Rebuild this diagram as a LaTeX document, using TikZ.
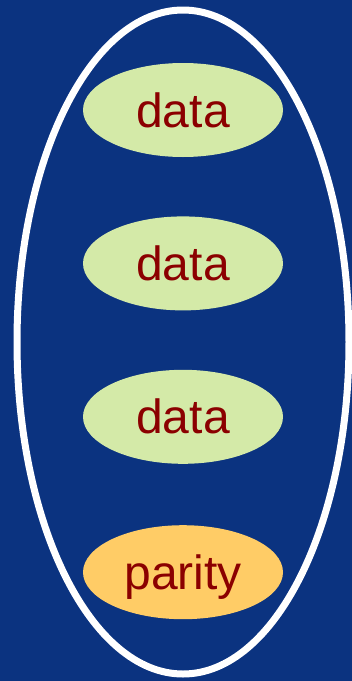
\documentclass[tikz,border=0pt]{standalone}
\usepackage{fontspec}
\setmainfont{Liberation Sans}
\usetikzlibrary{shapes,positioning,backgrounds}

\definecolor{slideblue}{RGB}{11,51,128}
\definecolor{datagreen}{RGB}{212,234,168}
\definecolor{parityorange}{RGB}{255,204,102}
\definecolor{labelred}{RGB}{139,0,0}

\begin{document}
\begin{tikzpicture}[x=1pt,y=-1pt,
  disk/.style={ellipse,minimum width=200pt,minimum height=94pt,inner sep=0pt,
    fill=datagreen,text=labelred,font=\fontsize{48}{48}\selectfont,
    text height=34pt,text depth=0pt,node distance=59pt},
  stripe/.style={ellipse,draw=white,line width=7pt,minimum width=332pt,minimum height=664pt,inner sep=0pt}]

        \fill[slideblue] (0,0) rectangle (352,681);
        \useasboundingbox (0,0) rectangle (352,681);

        \node[stripe] (G) at (183,342) {};

        \node[disk] (D1) at (183,110) {data};
        \node[disk] (D2) [below = of D1] {data};
        \node[disk] (D3) [below = of D2] {data};
        \node[disk,fill=parityorange] (P) [below = 61pt of D3] {parity};
      \end{tikzpicture}
\end{document}
